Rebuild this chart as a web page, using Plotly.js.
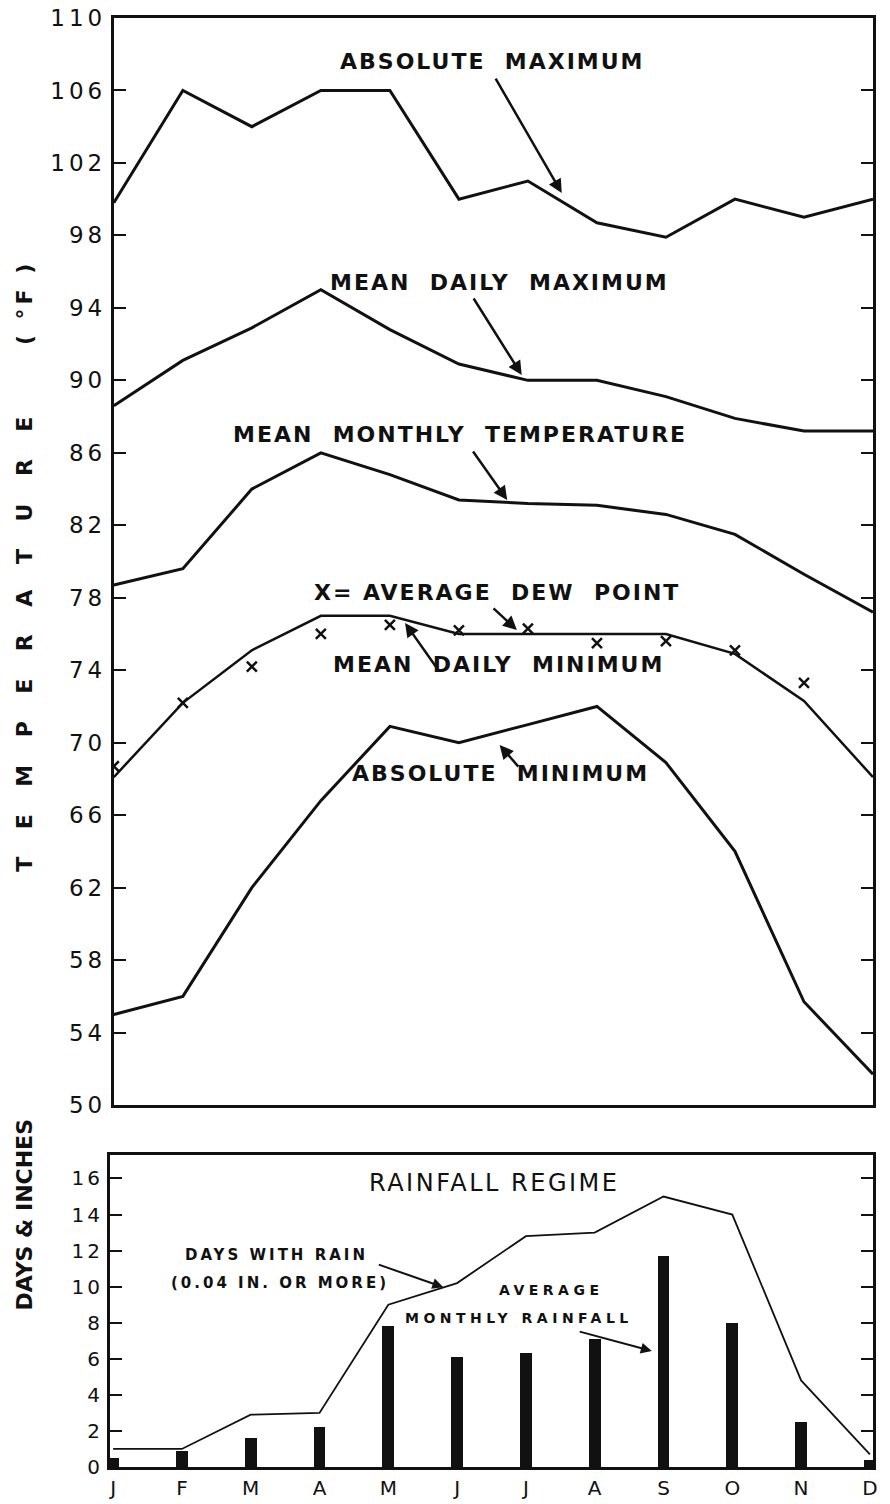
<!DOCTYPE html>
<html><head><meta charset="utf-8">
<script src="https://cdn.plot.ly/plotly-3.0.1.min.js"></script>
<style>
html,body{margin:0;padding:0;background:#fff;}
#chart{width:890px;height:1504px;}
.yaxislayer-above .ytick text{letter-spacing:4px;}
.yaxislayer-above .y2tick text{letter-spacing:3px;}
</style></head>
<body><div id="chart"></div>
<script>
// ---- data ----
const months = ['J','F','M','A','M','J','J','A','S','O','N','D'];
const absMax       = [99.8, 106, 104, 106, 106, 100, 101, 98.7, 97.9, 100, 99, 100];
const meanDailyMax = [88.6, 91.1, 92.9, 95, 92.8, 90.9, 90, 90, 89.1, 87.9, 87.2, 87.2];
const meanMonthly  = [78.7, 79.6, 84, 86, 84.8, 83.4, 83.2, 83.1, 82.6, 81.5, 79.3, 77.2];
const dewPoint     = [68.7, 72.2, 74.2, 76, 76.5, 76.2, 76.3, 75.5, 75.6, 75.1, 73.3, null];
const meanDailyMin = [68.1, 72.2, 75.1, 77, 77, 76, 76, 76, 76, 74.9, 72.3, 68.1];
const absMin       = [55, 56, 62, 66.8, 70.9, 70, 71, 72, 68.9, 64, 55.7, 51.7];
const rainDays     = [1, 1, 2.9, 3, 9, 10.2, 12.8, 13, 15, 14, 4.8, 0.7];
const rainInches   = [0.5, 0.9, 1.6, 2.2, 7.8, 6.1, 6.3, 7.1, 11.7, 8, 2.5, 0.4];
const tempTicks = [50,54,58,62,66,70,74,78,82,86,90,94,98,102,106,110];
const rainTicks = [0,2,4,6,8,10,12,14,16];

const monthIdx = months.map((_, i) => i);
const INK = '#111';

function tempLine(y, w){
  return {x: monthIdx, y: y, xaxis:'x', yaxis:'y', mode:'lines', type:'scatter',
          line:{color:INK, width:w}, hoverinfo:'skip'};
}

const traces = [
  tempLine(absMax, 3),
  tempLine(meanDailyMax, 3),
  tempLine(meanMonthly, 3),
  tempLine(meanDailyMin, 2.5),
  tempLine(absMin, 3),
  {x: monthIdx, y: dewPoint, xaxis:'x', yaxis:'y', mode:'markers', type:'scatter',
   marker:{symbol:'x-thin-open', size:10, color:INK, line:{color:INK, width:2.5}}, hoverinfo:'skip'},
  {x: monthIdx, y: rainInches, xaxis:'x2', yaxis:'y2', type:'bar', width:0.17,
   marker:{color:INK, line:{width:0}}, hoverinfo:'skip'},
  {x: monthIdx, y: rainDays, xaxis:'x2', yaxis:'y2', mode:'lines', type:'scatter',
   line:{color:INK, width:1.8}, hoverinfo:'skip'}
];

const bold = 'DejaVu Sans';
function lab(text, x, y, size, ls, xref, yref){
  return {text:'<span style="letter-spacing:'+ls+'px">'+text+'</span>', x:x, y:y,
          xref:xref||'x', yref:yref||'y', showarrow:false,
          font:{family:bold, size:size, color:INK, weight:700}};
}
function arr(tx, ty, hx, hy, xr, yr, w){
  return {text:'', x:hx, y:hy, ax:tx, ay:ty, xref:xr, yref:yr, axref:xr, ayref:yr,
          showarrow:true, arrowhead:2, arrowsize:1.1, arrowwidth:w, arrowcolor:INK,
          standoff:0, startstandoff:0};
}
const NB = '\u00a0';
const annotations = [
  lab('ABSOLUTE'+NB+NB+'MAXIMUM', 5.49, 107.6, 22, 2),
  lab('MEAN'+NB+NB+'DAILY'+NB+NB+'MAXIMUM', 5.59, 95.4, 22, 2),
  lab('MEAN'+NB+NB+'MONTHLY'+NB+NB+'TEMPERATURE', 5.01, 87.0, 22, 2),
  lab('X='+NB+'AVERAGE'+NB+NB+'DEW'+NB+NB+'POINT', 5.55, 78.3, 22, 2),
  lab('MEAN'+NB+NB+'DAILY'+NB+NB+'MINIMUM', 5.57, 74.3, 22, 2),
  lab('ABSOLUTE'+NB+NB+'MINIMUM', 5.61, 68.3, 22, 2),
  arr(5.52, 106.74, 6.49, 100.34, 'x', 'y', 2.5),
  arr(5.20, 94.6, 5.91, 90.3, 'x', 'y', 2.5),
  arr(5.19, 86.16, 5.70, 83.4, 'x', 'y', 2.5),
  arr(5.48, 77.49, 5.84, 76.22, 'x', 'y', 2.5),
  arr(4.68, 74.12, 4.22, 76.61, 'x', 'y', 2.5),
  arr(5.88, 68.6, 5.59, 69.87, 'x', 'y', 2.5),
  {text:'<span style="letter-spacing:2.5px">RAINFALL REGIME</span>', x:5.54, y:15.73,
   xref:'x2', yref:'y2', showarrow:false, font:{family:'DejaVu Sans', size:24, color:INK}},
  lab('DAYS'+NB+'WITH'+NB+'RAIN', 2.37, 11.75, 15, 3, 'x2', 'y2'),
  lab('(0.04'+NB+'IN.'+NB+'OR'+NB+'MORE)', 2.43, 10.19, 15, 3, 'x2', 'y2'),
  arr(3.84, 11.25, 4.80, 9.97, 'x2', 'y2', 2),
  lab('AVERAGE', 6.37, 9.81, 14, 4.5, 'x2', 'y2'),
  lab('MONTHLY'+NB+'RAINFALL', 5.90, 8.25, 14, 4.5, 'x2', 'y2'),
  arr(6.76, 7.53, 7.83, 6.43, 'x2', 'y2', 2),
  {text:'<span style="letter-spacing:27.5px">TEMPERATURE</span>\u2003\u2003<span style="letter-spacing:4px">( °F )</span>',
   x:-0.132, y:0.6218, xref:'paper', yref:'paper', showarrow:false, textangle:-90,
   font:{family:bold, size:22, color:INK, weight:700}},
  {text:'DAYS & INCHES', x:-0.131, y:0.1063, xref:'paper', yref:'paper', showarrow:false,
   textangle:-90, font:{family:bold, size:22, color:INK, weight:700}}
];

const layout = {
  width:890, height:1504,
  margin:{l:110, r:17, t:18, b:37},
  paper_bgcolor:'#fff', plot_bgcolor:'#fff',
  showlegend:false, hovermode:false,
  font:{family:'DejaVu Sans', color:INK},
  xaxis:{domain:[0.005,1], range:[0,11], showline:true, linewidth:3, linecolor:INK, mirror:true,
         ticks:'', showticklabels:false, showgrid:false, zeroline:false, anchor:'y'},
  yaxis:{domain:[0.2498,1], range:[50,110], tickvals:tempTicks, ticks:'inside', ticklen:12, tickwidth:2,
         tickcolor:INK, showline:true, linewidth:3, linecolor:INK, mirror:'ticks', showgrid:false,
         zeroline:false, tickfont:{size:23, color:INK, family:'DejaVu Sans'}, anchor:'x'},
  xaxis2:{domain:[0,1], range:[-0.045,11.045], tickvals:monthIdx, ticktext:months, ticks:'',
          showline:true, linewidth:3, linecolor:INK, mirror:true, showgrid:false, zeroline:false,
          tickfont:{size:20, color:INK, family:'DejaVu Sans'}, ticklabelstandoff:1, anchor:'y2'},
  yaxis2:{domain:[0,0.2153], range:[0,17.3], tickvals:rainTicks, ticks:'inside', ticklen:12, tickwidth:2,
          tickcolor:INK, showline:true, linewidth:3, linecolor:INK, mirror:'ticks', showgrid:false,
          zeroline:false, tickfont:{size:20, color:INK, family:'DejaVu Sans'}, anchor:'x2'},
  annotations: annotations,
  bargap:0
};

Plotly.newPlot('chart', traces, layout, {staticPlot:true, displayModeBar:false});
</script></body></html>
